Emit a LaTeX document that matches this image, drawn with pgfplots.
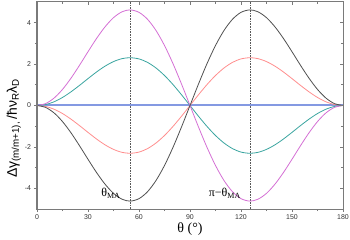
\documentclass[border=0pt]{standalone}
\usepackage{fontspec}
\setmainfont{Liberation Sans}
\newfontfamily\seriffont{Liberation Serif}
\usepackage{pgfplots}
\usepackage{pgfplotstable}
\pgfplotsset{compat=1.18}
\usetikzlibrary{calc}
\definecolor{cblack}{HTML}{505050}
\definecolor{cmag}{HTML}{D46FD4}
\definecolor{cteal}{HTML}{3AA5A0}
\definecolor{cpink}{HTML}{FF8E8E}
\definecolor{zeroblue}{HTML}{8499E2}
\definecolor{frame}{HTML}{7A7A7A}
\pgfplotstableread{
theta black magenta teal pink
0 0 0 0 0
5 -0.091 0.091 0.045 -0.045
10 -0.356 0.356 0.178 -0.178
15 -0.777 0.777 0.388 -0.388
20 -1.319 1.319 0.660 -0.660
25 -1.943 1.943 0.971 -0.971
30 -2.598 2.598 1.299 -1.299
35 -3.234 3.234 1.617 -1.617
40 -3.798 3.798 1.899 -1.899
45 -4.243 4.243 2.121 -2.121
50 -4.526 4.526 2.263 -2.263
54.74 -4.619 4.619 2.309 -2.309
60 -4.500 4.500 2.250 -2.250
65 -4.166 4.166 2.083 -2.083
70 -3.624 3.624 1.812 -1.812
75 -2.898 2.898 1.449 -1.449
80 -2.021 2.021 1.011 -1.011
85 -1.038 1.038 0.519 -0.519
90 0 0 0 0
95 1.038 -1.038 -0.519 0.519
100 2.021 -2.021 -1.011 1.011
105 2.898 -2.898 -1.449 1.449
110 3.624 -3.624 -1.812 1.812
115 4.166 -4.166 -2.083 2.083
120 4.500 -4.500 -2.250 2.250
125.26 4.619 -4.619 -2.309 2.309
130 4.526 -4.526 -2.263 2.263
135 4.243 -4.243 -2.121 2.121
140 3.798 -3.798 -1.899 1.899
145 3.234 -3.234 -1.617 1.617
150 2.598 -2.598 -1.299 1.299
155 1.943 -1.943 -0.971 0.971
160 1.319 -1.319 -0.660 0.660
165 0.777 -0.777 -0.388 0.388
170 0.356 -0.356 -0.178 0.178
175 0.091 -0.091 -0.045 0.045
180 0 0 0 0
}\datatable
\begin{document}
\begin{tikzpicture}
\pgfplotsset{
  common/.style={
    scale only axis, width=306bp, height=207bp,
    xmin=0, xmax=180, ymin=-5, ymax=5,
    xtick={0,30,...,180}, ytick={-4,-2,...,4},
    minor x tick num=1, minor y tick num=1,
    major tick length=3bp, minor tick length=2bp,
    every tick/.style={frame, line width=0.7bp},
    axis line style={frame, line width=1bp},
  }
}
\begin{axis}[common,
  tick align=outside, xtick pos=bottom, ytick pos=left,
  /pgf/number format/assume math mode=true,
  ticklabel style={font=\fontsize{7}{8}\selectfont, text=black!80},
  xticklabel style={yshift=0.5bp},
  yticklabel style={xshift=0.5bp},
  xlabel={\seriffont\fontsize{14}{15}\selectfont θ (°)},
  xlabel style={yshift=4bp},
  ylabel={\fontsize{14}{15}\selectfont Δγ\textsubscript{(m/m+1),}\,/ħν\textsubscript{R}λ\textsubscript{D}},
  ylabel style={at={(ticklabel cs:0.39)}, yshift=-3bp},
]
\addplot[black!65, dash pattern=on 0.8bp off 0.8bp, line width=0.7bp] coordinates {(54.74,-5) (54.74,5)};
\addplot[black!65, dash pattern=on 0.8bp off 0.8bp, line width=0.7bp] coordinates {(125.26,-5) (125.26,5)};
\addplot[zeroblue, solid, line width=1.8bp] coordinates {(0,0.01) (45,0.01) (90,0.01) (135,0.01) (180,0.01)};
\addplot[cpink, smooth, line width=0.8bp] table[x=theta, y=pink] {\datatable};
\addplot[cteal, smooth, line width=0.8bp] table[x=theta, y=teal] {\datatable};
\addplot[cmag, smooth, line width=0.8bp] table[x=theta, y=magenta] {\datatable};
\addplot[cblack, smooth, line width=0.8bp] table[x=theta, y=black] {\datatable};
\node[font=\seriffont\fontsize{12}{13}\selectfont] at (axis cs:43.5,-4.25) {θ\textsubscript{MA}};
\node[font=\seriffont\fontsize{12}{13}\selectfont] at (axis cs:110.5,-4.25) {π−θ\textsubscript{MA}};
\end{axis}
\begin{axis}[common,
  tick align=inside, xtick pos=top, ytick pos=right,
  xticklabels={}, yticklabels={},
]
\end{axis}
\pgfresetboundingbox
\path[use as bounding box] ($(current axis.south west)+(-37bp,-31bp)$) rectangle ($(current axis.north east)+(7bp,2bp)$);
\end{tikzpicture}
\end{document}
